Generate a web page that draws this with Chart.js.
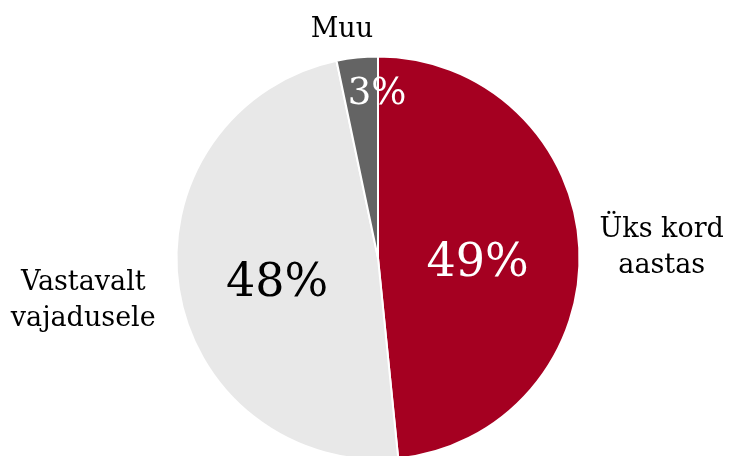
<!DOCTYPE html>
<html><head><meta charset="utf-8">
<script src="https://cdn.jsdelivr.net/npm/chart.js@4"></script>
<style>
html,body{margin:0;padding:0;background:#fff;overflow:hidden;width:731px;height:456px}
canvas{display:block}
</style></head>
<body><canvas id="c" width="731" height="470"></canvas>
<script>
// Data
const categories = ["Üks kord aastas", "Vastavalt vajadusele", "Muu"];
const values = [48.4, 48.3, 3.3];
const percentLabels = ["49%", "48%", "3%"];
const categoryLines = [["Üks kord", "aastas"], ["Vastavalt", "vajadusele"], ["Muu"]];

// Styles
const sliceColors = ["#A50021", "#E8E8E8", "#646464"];
const pctColors = ["#FFFFFF", "#000000", "#FFFFFF"];
const pctSizes = [46, 46, 37];
const pctAnchors = [[0.497, 0.09], [-0.503, 0.19], [-0.005, -0.77]];   // relative to radius, alphabetic baseline
const catAnchors = [[1.415, -0.105], [-1.47, 0.16], [-0.18, -1.10]];
const catSize = 27, catLineH = 36;
const FONT = '"DejaVu Serif", "Liberation Serif", serif';

const labelPlugin = {
  id: 'labels',
  afterDatasetsDraw(chart) {
    const ctx = chart.ctx;
    const arcs = chart.getDatasetMeta(0).data;
    ctx.save();
    ctx.textAlign = 'center';
    ctx.textBaseline = 'alphabetic';
    arcs.forEach((arc, i) => {
      const { x, y, outerRadius } = arc.getProps(['x', 'y', 'outerRadius'], true);
      const R = outerRadius - 1;
      ctx.fillStyle = pctColors[i];
      ctx.font = pctSizes[i] + 'px ' + FONT;
      ctx.fillText(percentLabels[i], x + pctAnchors[i][0] * R, y + pctAnchors[i][1] * R);
      ctx.fillStyle = '#000000';
      ctx.font = catSize + 'px ' + FONT;
      categoryLines[i].forEach((line, k) => {
        ctx.fillText(line, x + catAnchors[i][0] * R, y + catAnchors[i][1] * R + k * catLineH);
      });
    });
    ctx.restore();
  }
};

new Chart(document.getElementById('c'), {
  type: 'pie',
  data: {
    labels: categories,
    datasets: [{
      data: values,
      backgroundColor: sliceColors,
      borderColor: '#FFFFFF',
      borderWidth: 2
    }]
  },
  options: {
    responsive: false,
    animation: false,
    devicePixelRatio: 1,
    radius: 201.5,
    layout: { padding: { left: 178, right: 153, top: 58, bottom: 12 } },
    plugins: { legend: { display: false }, tooltip: { enabled: false } }
  },
  plugins: [labelPlugin]
});
</script>
</body></html>
